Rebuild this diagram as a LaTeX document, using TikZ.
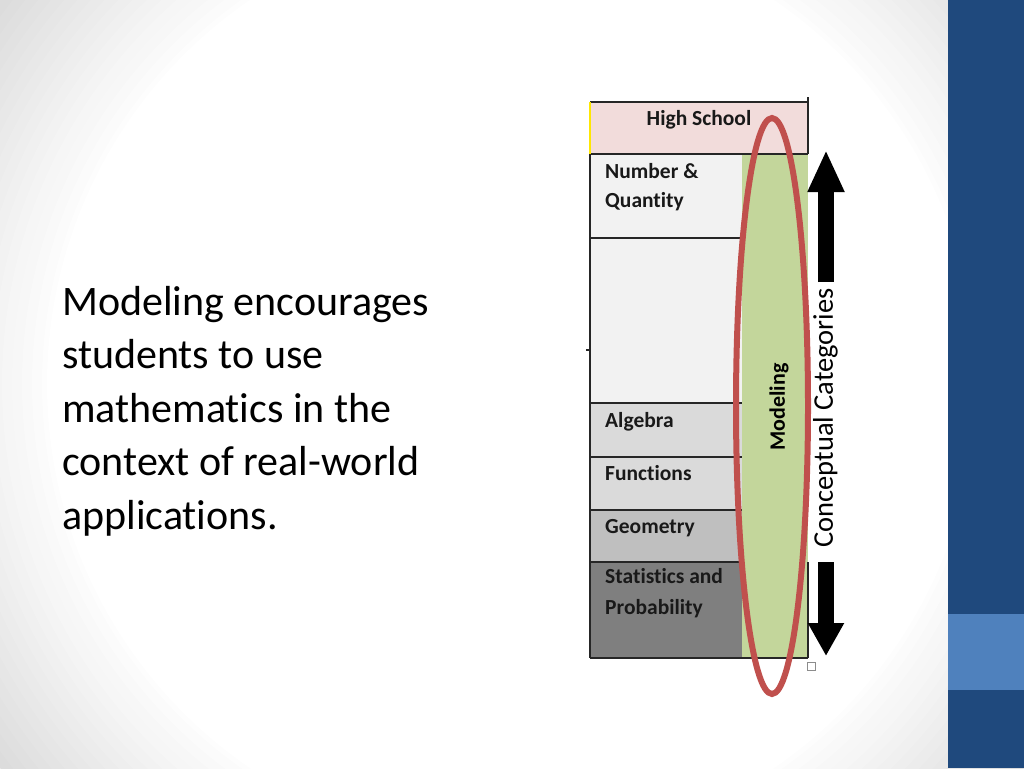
\documentclass[tikz,border=0pt]{standalone}
\usepackage{fontspec}
\setmainfont[Ligatures=NoCommon]{Carlito}
\usetikzlibrary{arrows.meta}

\definecolor{barblue}{HTML}{1F497D}
\definecolor{barlight}{HTML}{4F81BD}
\definecolor{hspink}{HTML}{F2DCDB}
\definecolor{rowlight}{HTML}{F2F2F2}
\definecolor{rowmid}{HTML}{DADADA}
\definecolor{rowgeo}{HTML}{BFBFBF}
\definecolor{rowdark}{HTML}{7F7F7F}
\definecolor{modgreen}{HTML}{C3D69B}
\definecolor{ovalred}{HTML}{C0504D}
\definecolor{bggrey}{HTML}{DCDCDC}

\begin{document}
\begin{tikzpicture}[x=1pt, y=-1pt,
  rowlbl/.style={font=\bfseries\fontsize{21.5}{30}\selectfont, text=black!90,
    anchor=base west, inner sep=0pt, align=left},
  grid/.style={draw=black!85, line width=1.2pt},
  bigarrow/.style={line width=16pt, draw=black}
]
  \useasboundingbox (0,0) rectangle (1024,768);
  % soft background: grey corners, white middle
  \begin{scope}
    \clip (0,0) rectangle (1024,768);
    \fill[bggrey] (0,0) rectangle (1024,768);
    \foreach \r in {640,630,...,470} {
      \pgfmathtruncatemacro\shadeamt{(\r-460)/1.8}
      \fill[bggrey!\shadeamt!white] (512,384) circle [radius=\r];
    }
    \fill[white] (512,384) circle [radius=465];
  \end{scope}

  % side bar
  \fill[barblue] (948,0) rectangle (1024,768);
  \fill[barlight] (948,614) rectangle (1024,690);

  % slide text
  \node[anchor=base west, align=left, inner sep=0pt,
    font=\fontsize{42}{53.5}\selectfont] (claim) at (62,529)
    {Modeling encourages\\students to use\\mathematics in the\\context of real-world\\applications.};

  % table cells
  \fill[hspink] (590,102) rectangle (808,154);
  \foreach \top/\bot/\col in {154/238/rowlight, 238/403/rowlight, 403/457/rowmid,
      457/510/rowmid, 510/562/rowgeo, 562/658/rowdark}
    \fill[\col] (590,\top) rectangle (742,\bot);
  \fill[modgreen] (742,154) rectangle (808,658);

  % rules
  \draw[grid] (590,102) -- (808,102);
  \draw[grid] (590,154) -- (808,154);
  \draw[grid] (808,97) -- (808,154);
  \foreach \y in {238,403,457,510,562}
    \draw[grid] (590,\y) -- (742,\y);
  \draw[grid] (590,658) -- (808,658);
  \draw[grid] (808,562) -- (808,658);
  \draw[grid] (590,154) -- (590,658);
  \draw[grid] (586,350) -- (590,350);
  \draw[yellow!90!orange, line width=1.5pt] (590,102) -- (590,154);
  \draw[black!45, line width=0.8pt] (807,662) rectangle (815,670);

  % labels
  \node[rowlbl, anchor=base] (hs) at (699,125) {High School};
  \node[rowlbl] (nq) at (605,178) {Number \&};
  \node[rowlbl] (nq2) at (605,207) {Quantity};
  \node[rowlbl] (alg) at (605,427) {Algebra};
  \node[rowlbl] (fun) at (605,480) {Functions};
  \node[rowlbl] (geo) at (605,533) {Geometry};
  \node[rowlbl] (sp) at (605,583) {Statistics and};
  \node[rowlbl] (sp2) at (605,614) {Probability};
  \node[font=\bfseries\fontsize{22}{24}\selectfont, rotate=90, inner sep=0pt] (model) at (779,407) {Modeling};

  % modeling oval
  \draw[ovalred, line width=6pt] (772,406) ellipse [x radius=36, y radius=288];

  % conceptual categories
  \node[font=\fontsize{28.5}{30}\selectfont, rotate=90, inner sep=0pt] (cc) at (825.5,418) {Conceptual Categories};
  \coordinate (uptail) at (826,282);
  \coordinate (uptip) at (826,150);
  \coordinate (dntail) at (826,562);
  \coordinate (dntip) at (826,656);
  \draw[bigarrow, -{Triangle[width=34pt, length=42pt]}] (uptail) -- (uptip);
  \draw[bigarrow, -{Triangle[width=34pt, length=33pt]}] (dntail) -- (dntip);
\end{tikzpicture}
\end{document}
